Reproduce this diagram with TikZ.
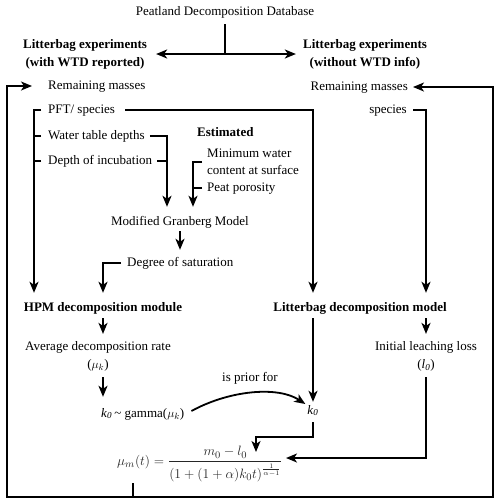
\documentclass[tikz,border=0pt]{standalone}
\usepackage{amsmath}
\usepackage[no-math]{fontspec}
\setmainfont{Liberation Serif}
\usetikzlibrary{arrows.meta,calc}
\begin{document}
\begin{tikzpicture}[x=1pt,y=-1pt,
  every node/.style={inner sep=0pt, font=\fontsize{13}{18}\selectfont},
  t/.style={text height=9pt, text depth=3pt},
  ml/.style={align=center},
  b/.style={font=\fontsize{13}{18}\selectfont\bfseries},
  arr/.style={-{Stealth[length=11pt,width=9pt,inset=3pt]}},
  ln/.style={line width=1.8pt, line cap=butt, line join=miter}]
\useasboundingbox (0,0) rectangle (500,504);
% nodes
\node[t] (db) at (225,12) {Peatland Decomposition Database};
\node[b,ml] (lt1) at (85,54) {Litterbag experiments\\(with WTD reported)};
\node[b,ml] (lt2) at (365,54) {Litterbag experiments\\(without WTD info)};
\node[t,anchor=west] (rm1) at (48,86) {Remaining masses};
\node[t,anchor=east] (rm2) at (408,87) {Remaining masses};
\node[t,anchor=west] (pft) at (48,110) {PFT/ species};
\node[t,anchor=east] (sp) at (407,110) {species};
\node[t,anchor=west] (wtd) at (48,136) {Water table depths};
\node[t,anchor=west] (doi) at (48,161) {Depth of incubation};
\node[t,b,anchor=west] (est) at (197,133) {Estimated};
\node[align=left,anchor=west,font=\fontsize{13}{17}\selectfont] (mwc) at (207,162) {Minimum water\\content at surface};
\node[t,anchor=west] (pp) at (207,188) {Peat porosity};
\node[t] (mgm) at (180,222) {Modified Granberg Model};
\node[t,anchor=west] (dos) at (127,263) {Degree of saturation};
\node[t,b] (hpm) at (103,308) {HPM decomposition module};
\node[t,b] (lbm) at (360,308) {Litterbag decomposition model};
\node[ml] (adr) at (98,356) {Average decomposition rate\\($\mu_k$)};
\node[ml] (ill) at (426,356) {Initial leaching loss\\(\textit{l}\textsubscript{\textit{0}})};
\node[t,anchor=west] (kg) at (101,414) {\textit{k}\textsubscript{\textit{0}}\,\textasciitilde\ gamma($\mu_k$)};
\node[t] (prior) at (250,378) {is prior for};
\node[t] (k0) at (313,411) {\textit{k}\textsubscript{\textit{0}}};
\node[text=black!85] (fm) at (200,464) {\scalebox{1.13}{$\displaystyle \mu_m(t)=\frac{m_0-l_0}{(1+(1+\alpha)k_0t)^{\frac{1}{\alpha-1}}}$}};
% coordinates
\coordinate (j) at (225,54);
\coordinate (bl) at (34,110);
\coordinate (br) at (167,136);
\coordinate (be) at ([xshift=-14pt]mwc.west);
\coordinate (kb) at (256,437);
\coordinate (fmn) at (256,452);
\coordinate (fmr) at (286,458);
\coordinate (fmb) at (133,483);
\coordinate (cbl) at (7,497);
\coordinate (cbr) at (493,497);
% connectors
\draw[ln] ([yshift=-6pt]db.south) -- (j);
\draw[ln,arr] (j) -- ([xshift=9pt]lt1.east);
\draw[ln,arr] (j) -- ([xshift=-7pt]lt2.west);
\draw[ln,arr] (fmb) |- (cbl) |- ([xshift=-16pt]rm1.west);
\draw[ln,arr] (fmb) |- (cbr) |- ([xshift=5pt]rm2.east);
\draw[ln,arr,shorten >=9pt] ([xshift=10pt]pft.east) -| (k0.north |- lbm.north);
\draw[ln,arr,shorten >=9pt] ([xshift=6pt]sp.east) -| (ill.north |- lbm.north);
\draw[ln,arr,shorten >=9pt] ([xshift=-7pt]pft.west) -- (bl) -- (bl |- hpm.north);
\draw[ln] ([xshift=-7pt]wtd.west) -- (bl |- wtd.west);
\draw[ln] ([xshift=-7pt]doi.west) -- (bl |- doi.west);
\draw[ln,arr,shorten >=9pt] ([xshift=5pt]wtd.east) -- (br) -- (br |- mgm.north);
\draw[ln] ([xshift=5pt]doi.east) -- (br |- doi.east);
\draw[ln,arr,shorten >=9pt] ([xshift=-5pt]mwc.west) -- (be) -- (be |- mgm.north);
\draw[ln] ([xshift=-5pt]pp.west) -- (be |- pp.west);
\draw[ln,arr,shorten <=3pt,shorten >=7pt] (mgm.south) -- (mgm.south |- dos.north);
\draw[ln,arr,shorten >=9pt] ([xshift=-6pt]dos.west) -| (hpm.north);
\draw[ln,arr,shorten <=4pt,shorten >=7pt] (hpm.south) -- (hpm.south |- adr.north);
\draw[ln,arr,shorten <=6pt,shorten >=11pt] (hpm.south |- adr.south) -- (hpm.south |- kg.north);
\draw[ln,arr,shorten <=4pt,shorten >=3pt] (k0.north |- lbm.south) -- (k0.north);
\draw[ln,arr,shorten <=4pt,shorten >=7pt] (ill.north |- lbm.south) -- (ill.north);
\draw[ln,arr] ([yshift=-5pt]k0.south) |- (kb) -- (fmn);
\draw[ln,arr] ([yshift=-6pt]ill.south) |- (fmr);
\draw[ln,arr] ([xshift=7pt,yshift=3pt]kg.east) .. controls (230,390) and (278,386) .. ([xshift=-2pt,yshift=7pt]k0.west);
\end{tikzpicture}
\end{document}
